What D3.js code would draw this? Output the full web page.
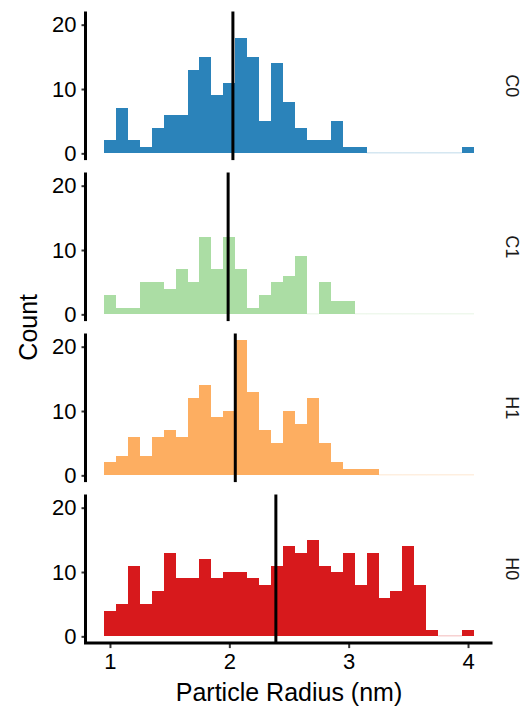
<!DOCTYPE html>
<html>
<head>
<meta charset="utf-8">
<script src="https://cdn.jsdelivr.net/npm/d3@7"></script>
<style>
  html, body { margin: 0; padding: 0; background: #fff; }
  svg { display: block; }
  text { font-family: "Liberation Sans", Arial, Helvetica, sans-serif; }
</style>
</head>
<body>
<svg id="chart" width="521" height="708"></svg>
<script>
// Histogram bin centres (nm), bin width 0.1
const binCenters = d3.range(31).map(i => +(1 + i * 0.1).toFixed(1));
const binWidth = 0.1;

// Facet names, top to bottom
const groups = ["C0", "C1", "H1", "H0"];
const groupColors = ["#2b83ba", "#abdda4", "#fdae61", "#d7191c"];

// Counts per bin for each group
const countsC0 = [2, 7, 2, 1, 4, 6, 6, 13, 15, 9, 11, 18, 15, 5, 14, 8, 4, 2, 2, 5, 1, 1, 0, 0, 0, 0, 0, 0, 0, 0, 1];
const countsC1 = [3, 1, 1, 5, 5, 4, 7, 5, 12, 7, 12, 7, 1, 3, 5, 6, 9, 0, 5, 2, 2, 0, 0, 0, 0, 0, 0, 0, 0, 0, 0];
const countsH1 = [2, 3, 6, 3, 6, 7, 6, 12, 14, 9, 10, 21, 13, 7, 5, 10, 8, 12, 5, 2, 1, 1, 1, 0, 0, 0, 0, 0, 0, 0, 0];
const countsH0 = [4, 5, 11, 5, 7, 13, 9, 9, 12, 9, 10, 10, 9, 8, 11, 14, 13, 15, 11, 10, 13, 8, 13, 6, 7, 14, 8, 1, 0, 0, 1];

// Mean particle radius per group (vertical reference lines)
const meanRadius = [2.03, 1.99, 2.05, 2.39];

// Axis ticks
const xTicks = [1, 2, 3, 4];
const yTicks = [0, 10, 20];

const allCounts = [countsC0, countsC1, countsH1, countsH0];

const svg = d3.select("#chart");

const panelLeft = 85.5, panelRight = 492.5;
const panelTop = 11.5, panelHeight = 148.6, panelGap = 12.4;

// Continuous scales with 5% expansion on each side
const xMin = binCenters[0] - binWidth / 2, xMax = binCenters[binCenters.length - 1] + binWidth / 2;
const xPad = (xMax - xMin) * 0.05;
const x = d3.scaleLinear().domain([xMin - xPad, xMax + xPad]).range([panelLeft, panelRight]);

const yMaxVal = d3.max(allCounts, c => d3.max(c));
const yPad = yMaxVal * 0.05;

const ink = "#000";
const tickInk = "#333";
const tickFont = "22px";

groups.forEach((g, gi) => {
  const top = panelTop + gi * (panelHeight + panelGap);
  const bottom = top + panelHeight;
  const y = d3.scaleLinear().domain([-yPad, yMaxVal + yPad]).range([bottom, top]);
  const counts = allCounts[gi];
  const color = groupColors[gi];
  const panel = svg.append("g").attr("class", "panel panel-" + g);

  const bins = binCenters.map((c, i) => ({ x0: c - binWidth / 2, x1: c + binWidth / 2, n: counts[i] }));

  // bars
  panel.selectAll("rect.bar")
    .data(bins.filter(d => d.n > 0))
    .join("rect")
    .attr("class", "bar")
    .attr("x", d => x(d.x0))
    .attr("width", d => x(d.x1) - x(d.x0))
    .attr("y", d => y(d.n))
    .attr("height", d => y(0) - y(d.n))
    .attr("fill", color)
    .attr("shape-rendering", "crispEdges");

  // empty bins show as a faint line on the baseline
  panel.selectAll("line.empty")
    .data(bins.filter(d => d.n === 0))
    .join("line")
    .attr("class", "empty")
    .attr("x1", d => x(d.x0))
    .attr("x2", d => x(d.x1))
    .attr("y1", y(0) - 0.5)
    .attr("y2", y(0) - 0.5)
    .attr("stroke", color)
    .attr("stroke-opacity", 0.3)
    .attr("stroke-width", 1);

  // mean line
  panel.append("line")
    .attr("x1", x(meanRadius[gi])).attr("x2", x(meanRadius[gi]))
    .attr("y1", top).attr("y2", bottom)
    .attr("stroke", ink).attr("stroke-width", 3);

  // y axis
  const yAxis = d3.axisLeft(y).tickValues(yTicks).tickSize(4).tickPadding(5);
  const ya = panel.append("g").attr("transform", `translate(${panelLeft},0)`).call(yAxis);
  ya.select(".domain").remove();
  ya.selectAll(".tick line").attr("stroke", tickInk).attr("stroke-width", 2);
  ya.selectAll(".tick text").attr("fill", "#000").style("font-size", tickFont)
    .attr("font-family", "Liberation Sans, Arial, sans-serif");
  panel.append("line")
    .attr("x1", panelLeft).attr("x2", panelLeft)
    .attr("y1", top).attr("y2", bottom)
    .attr("stroke", ink).attr("stroke-width", 3);

  // strip label
  panel.append("text")
    .attr("transform", `translate(512,${(top + bottom) / 2}) rotate(90)`)
    .attr("text-anchor", "middle")
    .attr("dominant-baseline", "central")
    .attr("fill", "#1a1a1a")
    .style("font-size", "18px")
    .text(g);

  // x axis on the bottom panel only
  if (gi === groups.length - 1) {
    const xAxis = d3.axisBottom(x).tickValues(xTicks).tickSize(5).tickPadding(5).tickFormat(d3.format("d"));
    const xa = panel.append("g").attr("transform", `translate(0,${bottom})`).call(xAxis);
    xa.select(".domain").remove();
    xa.selectAll(".tick line").attr("stroke", tickInk).attr("stroke-width", 2);
    xa.selectAll(".tick text").attr("fill", "#000").style("font-size", tickFont)
      .attr("font-family", "Liberation Sans, Arial, sans-serif");
    panel.append("line")
      .attr("x1", panelLeft - 1.5).attr("x2", panelRight)
      .attr("y1", bottom).attr("y2", bottom)
      .attr("stroke", ink).attr("stroke-width", 3);
  }
});

// axis titles
const lastBottom = panelTop + groups.length * panelHeight + (groups.length - 1) * panelGap;
svg.append("text")
  .attr("x", (panelLeft + panelRight) / 2)
  .attr("y", 701)
  .attr("text-anchor", "middle")
  .attr("fill", "#000")
  .style("font-size", "25px")
  .text("Particle Radius (nm)");

svg.append("text")
  .attr("transform", `translate(37,${(panelTop + lastBottom) / 2}) rotate(-90)`)
  .attr("text-anchor", "middle")
  .attr("fill", "#000")
  .style("font-size", "25px")
  .text("Count");
</script>
</body>
</html>
